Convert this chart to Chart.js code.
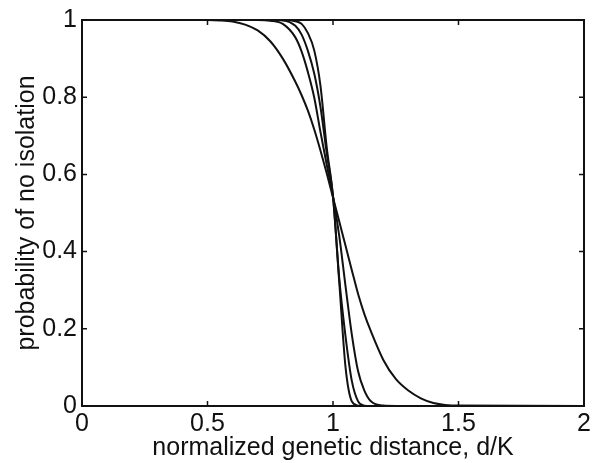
<!DOCTYPE html>
<html>
<head>
<meta charset="utf-8">
<script src="https://cdn.jsdelivr.net/npm/chart.js@4.4.1/dist/chart.umd.min.js"></script>
<style>
  html, body { margin: 0; padding: 0; background: #fff; }
  canvas { display: block; }
</style>
</head>
<body>
<canvas id="chart" width="596" height="463"></canvas>
<script>
// normalized genetic distance d/K (shared grid)
const distance = [0, 0.5, 0.55, 0.6, 0.65, 0.7, 0.75, 0.8, 0.85, 0.875, 0.9, 0.925, 0.95, 0.975, 1.0, 1.025, 1.05, 1.075, 1.1, 1.125, 1.15, 1.2, 1.25, 1.3, 1.35, 1.4, 1.5, 2];

// probability of no isolation, four curves
const curveA = [1, 1, 0.999, 0.996, 0.988, 0.973, 0.945, 0.9, 0.84, 0.805, 0.765, 0.717, 0.662, 0.603, 0.54, 0.478, 0.415, 0.352, 0.29, 0.238, 0.195, 0.12, 0.07, 0.04, 0.02, 0.008, 0.001, 0];
const curveB = [1, 1, 1, 1, 1, 1, 0.998, 0.99, 0.955, 0.918, 0.865, 0.8, 0.71, 0.625, 0.543, 0.44, 0.31, 0.185, 0.09, 0.04, 0.013, 0.001, 0, 0, 0, 0, 0, 0];
const curveC = [1, 1, 1, 1, 1, 1, 1, 0.999, 0.985, 0.962, 0.92, 0.862, 0.775, 0.655, 0.543, 0.33, 0.18, 0.065, 0.012, 0.001, 0, 0, 0, 0, 0, 0, 0, 0];
const curveD = [1, 1, 1, 1, 1, 1, 1, 1, 0.997, 0.99, 0.966, 0.922, 0.83, 0.67, 0.543, 0.32, 0.1, 0.012, 0.001, 0, 0, 0, 0, 0, 0, 0, 0, 0];

const xTicks = [0, 0.5, 1, 1.5, 2];
const xTickLabels = ['0', '0.5', '1', '1.5', '2'];
const yTicks = [0, 0.2, 0.4, 0.6, 0.8, 1];
const yTickLabels = ['0', '0.2', '0.4', '0.6', '0.8', '1'];

const font = 'Liberation Sans, Arial, Helvetica, sans-serif';

function toPoints(ys) {
    return distance.map(function(x, i) { return { x: x, y: ys[i] }; });
}

function makeSet(ys) {
    return {
        data: toPoints(ys),
        borderColor: '#111',
        borderWidth: 2,
        pointRadius: 0,
        fill: false,
        cubicInterpolationMode: 'monotone',
        clip: 4
    };
}

// MATLAB-style box with inward ticks on all four sides
const boxPlugin = {
    id: 'box',
    afterDatasetsDraw: function(chart) {
        const ctx = chart.ctx;
        const a = chart.chartArea;
        const xs = chart.scales.x;
        const ys = chart.scales.y;
        const len = 5;
        ctx.save();
        ctx.strokeStyle = '#111';
        ctx.lineWidth = 2;
        ctx.strokeRect(a.left, a.top, a.right - a.left, a.bottom - a.top);
        ctx.lineWidth = 1.5;
        ctx.beginPath();
        xTicks.forEach(function(v) {
            const px = xs.getPixelForValue(v);
            ctx.moveTo(px, a.bottom); ctx.lineTo(px, a.bottom - len);
            ctx.moveTo(px, a.top); ctx.lineTo(px, a.top + len);
        });
        yTicks.forEach(function(v) {
            const py = ys.getPixelForValue(v);
            ctx.moveTo(a.left, py); ctx.lineTo(a.left + len, py);
            ctx.moveTo(a.right, py); ctx.lineTo(a.right - len, py);
        });
        ctx.stroke();
        ctx.restore();
    }
};

new Chart(document.getElementById('chart'), {
    type: 'line',
    data: {
        datasets: [makeSet(curveA), makeSet(curveB), makeSet(curveC), makeSet(curveD)]
    },
    options: {
        responsive: false,
        animation: false,
        layout: { padding: { top: 10, right: 12, left: 0, bottom: 0 } },
        plugins: { legend: { display: false }, tooltip: { enabled: false } },
        scales: {
            x: {
                type: 'linear',
                min: 0,
                max: 2,
                afterBuildTicks: function(s) { s.ticks = xTicks.map(function(v) { return { value: v }; }); },
                afterFit: function(s) { s.height = 57; },
                grid: { display: false, drawTicks: false },
                border: { display: false },
                ticks: {
                    color: '#111',
                    padding: 3,
                    maxRotation: 0,
                    font: { family: font, size: 25 },
                    callback: function(v) { return xTickLabels[xTicks.indexOf(v)]; }
                },
                title: {
                    display: true,
                    text: 'normalized genetic distance, d/K',
                    color: '#111',
                    font: { family: font, size: 25 },
                    padding: { top: 0, bottom: 0 }
                }
            },
            y: {
                min: 0,
                max: 1,
                afterBuildTicks: function(s) { s.ticks = yTicks.map(function(v) { return { value: v }; }); },
                afterFit: function(s) { s.width = 82; },
                grid: { display: false, drawTicks: false },
                border: { display: false },
                ticks: {
                    color: '#111',
                    padding: 5,
                    font: { family: font, size: 25 },
                    callback: function(v) { return yTickLabels[yTicks.indexOf(v)]; }
                },
                title: {
                    display: true,
                    text: 'probability of no isolation',
                    color: '#111',
                    font: { family: font, size: 25 },
                    padding: { top: 12, bottom: 0 }
                }
            }
        }
    },
    plugins: [boxPlugin]
});
</script>
</body>
</html>
